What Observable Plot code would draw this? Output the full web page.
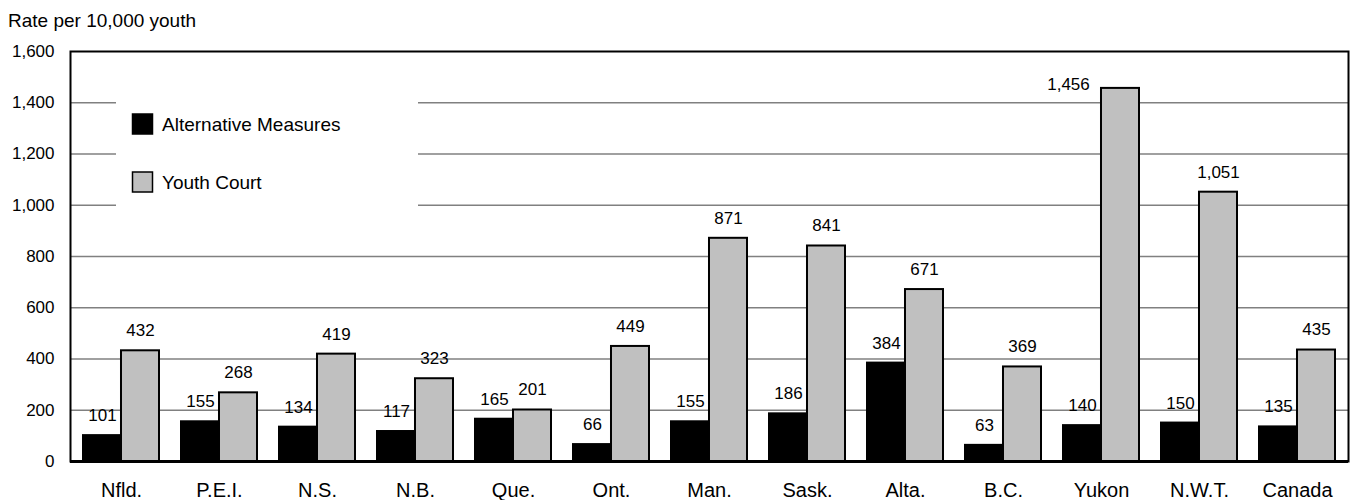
<!DOCTYPE html>
<html>
<head>
<meta charset="utf-8">
<script src="https://cdn.jsdelivr.net/npm/d3@7"></script>
<script src="https://cdn.jsdelivr.net/npm/@observablehq/plot@0.6"></script>
<style>
  body { margin: 0; background: #fff; font-family: "Liberation Sans", Arial, sans-serif; }
  #title { height: 35px; box-sizing: border-box; padding-top: 10.5px; padding-left: 8px; font-size: 19px; line-height: 19px; color: #000; }
  g[aria-label^="x-axis"] { font-size: 20px; }
  g[aria-label^="y-axis"] { font-size: 17px; }
  svg text { fill: #000; }
</style>
</head>
<body>
<div id="title">Rate per 10,000 youth</div>
<div id="chart"></div>
<script>
const categories = ["Nfld.", "P.E.I.", "N.S.", "N.B.", "Que.", "Ont.", "Man.", "Sask.", "Alta.", "B.C.", "Yukon", "N.W.T.", "Canada"];
const alternativeMeasures = [101, 155, 134, 117, 165, 66, 155, 186, 384, 63, 140, 150, 135];
const youthCourt = [432, 268, 419, 323, 201, 449, 871, 841, 671, 369, 1456, 1051, 435];
const series = ["Alternative Measures", "Youth Court"];
const seriesColors = ["#000000", "#c0c0c0"];
const yTicks = [0, 200, 400, 600, 800, 1000, 1200, 1400, 1600];
const gridTicks = [200, 400, 600, 800, 1000, 1200, 1400];

const altData = categories.map((c, i) => ({category: c, value: alternativeMeasures[i]}));
const courtData = categories.map((c, i) => ({category: c, value: youthCourt[i]}));

const W = 1351, H = 465, mL = 70, mR = 3, mT = 16, mB = 39;
const pI = 0.227, pO = 0.1135;
const step = (W - mL - mR) / (categories.length - pI + 2 * pO);
const bw = step * (1 - pI);
const half = bw / 2;

const fmt = d3.format(",");

const chart = Plot.plot({
  width: W,
  height: H,
  marginTop: mT,
  marginBottom: mB,
  marginLeft: mL,
  marginRight: mR,
  style: {fontFamily: "'Liberation Sans', Arial, sans-serif", fontSize: "17px", color: "#000", background: "#fff"},
  x: {domain: categories, paddingInner: pI, paddingOuter: pO, label: null, tickSize: 0, tickPadding: 21},
  y: {domain: [0, 1600], ticks: yTicks, tickFormat: d => fmt(d), tickSize: 0, tickPadding: 16, label: null},
  marks: [
    Plot.ruleY(gridTicks, {stroke: "#808080", strokeWidth: 1.6}),
    Plot.barY(altData, {x: "category", y: "value", fill: seriesColors[0], stroke: "#000", strokeWidth: 2, insetRight: half}),
    Plot.barY(courtData, {x: "category", y: "value", fill: seriesColors[1], stroke: "#000", strokeWidth: 2, insetLeft: half}),
    Plot.text(altData, {x: "category", y: "value", text: d => fmt(d.value), dx: -half / 2, dy: -20, lineAnchor: "middle", fontSize: 17, fill: "#000"}),
    Plot.text(courtData.filter(d => d.category !== "Yukon"), {x: "category", y: "value", text: d => fmt(d.value), dx: half / 2, dy: -20, lineAnchor: "middle", fontSize: 17, fill: "#000"}),
    Plot.text(courtData.filter(d => d.category === "Yukon"), {x: "category", y: "value", text: d => fmt(d.value), dx: -33, dy: -3.5, lineAnchor: "middle", fontSize: 17, fill: "#000"}),
    Plot.frame({stroke: "#000", strokeWidth: 2}),
    Plot.ruleY([0], {stroke: "#000", strokeWidth: 3})
  ]
});

document.getElementById("chart").appendChild(chart);

// Legend inside the plot area (top-left), over a white background that hides the gridlines
const svg = d3.select(chart.tagName.toLowerCase() === "svg" ? chart : chart.querySelector("svg"));
const lg = svg.append("g").attr("class", "legend");
lg.append("rect").attr("x", 116).attr("y", 50).attr("width", 302).attr("height", 143).attr("fill", "#fff");
const legendRows = [79, 137];
series.forEach((s, i) => {
  lg.append("rect")
    .attr("x", 132.5).attr("y", legendRows[i])
    .attr("width", 20).attr("height", 20)
    .attr("fill", seriesColors[i]).attr("stroke", "#000").attr("stroke-width", 1.5);
  lg.append("text")
    .attr("x", 162).attr("y", legendRows[i] + 10).attr("dy", "0.35em")
    .attr("text-anchor", "start")
    .attr("font-size", 19).attr("font-family", "'Liberation Sans', Arial, sans-serif")
    .attr("fill", "#000")
    .text(s);
});
</script>
</body>
</html>
